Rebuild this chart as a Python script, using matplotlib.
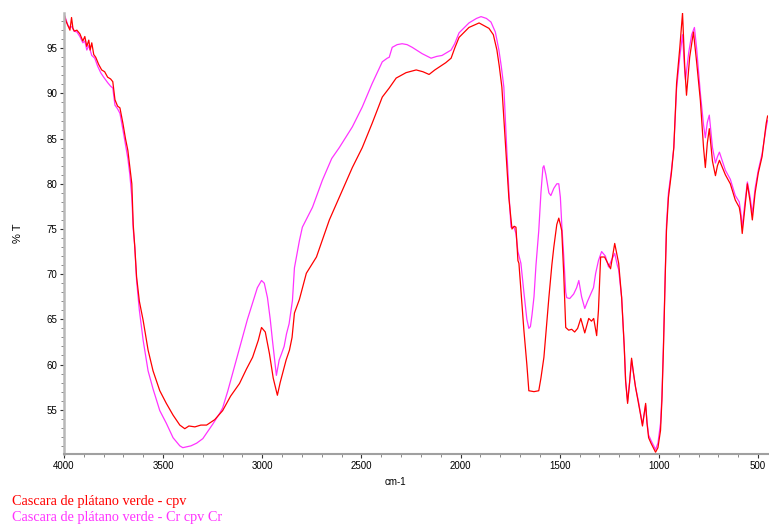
import numpy as np
import matplotlib
matplotlib.use("Agg")
from matplotlib import pyplot as plt
from matplotlib.ticker import MultipleLocator

# cascara de platano verde - cpv (red)
wn_cpv = [4000, 3990, 3980, 3970, 3962, 3955, 3948, 3935, 3920, 3905,
          3895, 3885, 3875, 3868, 3860, 3850, 3840, 3825, 3810, 3795,
          3780, 3765, 3754, 3743, 3730, 3718, 3703, 3690, 3678, 3668,
          3658, 3651, 3643, 3634, 3620, 3601, 3576, 3551, 3517, 3484,
          3450, 3416, 3391, 3370, 3340, 3310, 3281, 3240, 3200, 3160,
          3115, 3080, 3049, 3020, 3004, 2985, 2964, 2945, 2924, 2910,
          2898, 2880, 2863, 2850, 2838, 2813, 2778, 2727, 2662, 2612,
          2546, 2496, 2446, 2395, 2360, 2325, 2275, 2224, 2190, 2159,
          2130, 2109, 2075, 2048, 2030, 2008, 1958, 1907, 1857, 1835,
          1817, 1805, 1792, 1780, 1767, 1757, 1741, 1730, 1721, 1711,
          1706, 1695, 1681, 1666, 1656, 1630, 1606, 1595, 1580, 1568,
          1555, 1540, 1530, 1515, 1505, 1497, 1490, 1480, 1470, 1455,
          1440, 1425, 1410, 1394, 1374, 1354, 1340, 1329, 1314, 1305,
          1294, 1274, 1244, 1223, 1203, 1188, 1175, 1168, 1158, 1148,
          1138, 1128, 1118, 1103, 1093, 1083, 1067, 1060, 1052, 1040,
          1017, 1005, 992, 985, 977, 968, 962, 952, 937, 925,
          911, 895, 881, 870, 861, 845, 826, 810, 791, 775,
          766, 756, 746, 730, 715, 705, 695, 680, 665, 640,
          615, 595, 588, 580, 566, 554, 540, 529, 515, 499,
          480, 459, 452]
t_cpv = [98.8, 98.0, 97.5, 97.0, 98.4, 97.2, 96.9, 97.0, 96.6, 95.8,
         96.3, 95.2, 95.9, 94.8, 95.6, 94.3, 94.0, 93.2, 92.6, 92.4,
         91.8, 91.6, 91.3, 89.3, 88.6, 88.4, 86.7, 85.0, 83.7, 81.8,
         80.0, 75.5, 73.0, 69.7, 67.0, 64.9, 61.6, 59.3, 57.1, 55.7,
         54.4, 53.3, 52.9, 53.2, 53.1, 53.3, 53.3, 53.9, 54.9, 56.5,
         57.9, 59.5, 60.8, 62.7, 64.1, 63.6, 61.2, 58.5, 56.6, 58.0,
         59.0, 60.5, 61.6, 63.0, 65.7, 67.2, 70.1, 71.9, 76.0, 78.5,
         81.8, 84.0, 86.7, 89.6, 90.6, 91.7, 92.3, 92.6, 92.4, 92.1,
         92.6, 92.9, 93.4, 93.9, 95.0, 96.2, 97.3, 97.8, 97.2, 96.5,
         94.8, 93.0, 90.7, 86.5, 81.8, 78.5, 75.0, 75.3, 75.2, 71.5,
         71.2, 68.0, 63.8, 60.0, 57.1, 57.0, 57.1, 58.5, 60.8, 64.0,
         67.4, 71.0, 73.0, 75.5, 76.2, 75.5, 74.8, 70.0, 64.1, 63.8,
         63.9, 63.6, 64.0, 65.1, 63.5, 65.1, 64.8, 65.1, 63.2, 66.0,
         71.9, 71.9, 70.6, 73.4, 71.2, 67.4, 62.0, 58.2, 55.7, 58.0,
         60.7, 59.0, 57.5, 55.7, 54.5, 53.2, 55.7, 53.5, 51.9, 51.3,
         50.3, 50.8, 52.7, 56.0, 61.9, 70.0, 74.8, 78.5, 81.2, 84.0,
         91.1, 95.0, 98.9, 93.0, 89.8, 94.0, 96.8, 93.5, 89.2, 84.0,
         81.8, 84.5, 86.1, 82.5, 80.9, 82.0, 82.6, 81.8, 81.0, 80.0,
         78.2, 77.4, 76.5, 74.5, 77.5, 80.0, 78.0, 76.0, 79.0, 81.2,
         83.0, 86.7, 87.5]

# cascara de platano verde - Cr cpv Cr (magenta)
wn_cr = [4000, 3990, 3980, 3970, 3960, 3950, 3935, 3920, 3905, 3895,
         3885, 3875, 3860, 3845, 3830, 3815, 3800, 3780, 3765, 3754,
         3743, 3730, 3718, 3703, 3690, 3678, 3668, 3658, 3651, 3643,
         3634, 3620, 3601, 3576, 3551, 3517, 3484, 3450, 3416, 3401,
         3380, 3360, 3331, 3300, 3281, 3250, 3215, 3200, 3175, 3150,
         3125, 3100, 3075, 3049, 3025, 3004, 2990, 2974, 2960, 2949,
         2929, 2915, 2903, 2890, 2878, 2865, 2853, 2848, 2838, 2813,
         2798, 2747, 2697, 2650, 2612, 2546, 2496, 2446, 2395, 2370,
         2360, 2345, 2320, 2295, 2270, 2244, 2194, 2149, 2120, 2094,
         2048, 2030, 2008, 1958, 1920, 1897, 1870, 1847, 1825, 1807,
         1795, 1782, 1767, 1755, 1746, 1731, 1721, 1711, 1696, 1681,
         1666, 1656, 1648, 1640, 1630, 1620, 1606, 1595, 1585, 1580,
         1570, 1555, 1545, 1530, 1515, 1505, 1497, 1490, 1480, 1470,
         1465, 1450, 1430, 1415, 1404, 1390, 1374, 1360, 1344, 1330,
         1319, 1305, 1289, 1270, 1254, 1240, 1223, 1210, 1203, 1188,
         1175, 1168, 1158, 1148, 1138, 1128, 1118, 1103, 1093, 1083,
         1067, 1060, 1052, 1040, 1017, 1005, 992, 985, 977, 968,
         962, 952, 937, 925, 911, 895, 881, 870, 866, 850,
         835, 821, 810, 791, 775, 766, 756, 746, 730, 715,
         705, 695, 680, 665, 640, 615, 595, 588, 580, 566,
         554, 540, 529, 515, 499, 480, 459, 452]
t_cr = [98.8, 98.2, 97.5, 97.3, 97.4, 96.9, 96.8, 96.3, 95.6, 95.8,
        94.8, 95.3, 94.2, 93.9, 93.0, 92.3, 91.8, 91.2, 90.8, 90.6,
        88.7, 88.3, 87.8, 86.0, 84.3, 82.8, 81.0, 78.5, 75.0, 73.0,
        69.3, 66.0, 62.7, 59.3, 57.3, 54.9, 53.5, 51.9, 51.0, 50.8,
        50.9, 51.0, 51.3, 51.8, 52.4, 53.4, 54.6, 55.2, 57.0, 59.0,
        61.0, 63.0, 65.0, 66.8, 68.5, 69.3, 69.0, 67.4, 65.0, 62.7,
        58.8, 60.5, 61.2, 62.0, 63.4, 64.5, 66.3, 67.1, 70.7, 73.7,
        75.2, 77.4, 80.4, 82.8, 84.0, 86.3, 88.5, 91.1, 93.5, 93.9,
        94.0, 95.1, 95.4, 95.5, 95.4, 95.1, 94.4, 93.9, 94.1, 94.2,
        94.8, 95.5, 96.7, 97.8, 98.3, 98.5, 98.3, 97.9, 96.8, 94.8,
        93.0, 90.7, 83.7, 78.5, 75.2, 75.2, 74.5, 72.5, 71.2, 68.0,
        65.0, 64.0, 64.2, 65.5, 67.5, 71.0, 74.8, 79.0, 81.8, 82.0,
        81.0, 79.0, 78.7, 79.5, 80.0, 80.0, 78.5, 75.5, 72.0, 68.0,
        67.4, 67.3, 67.8, 68.5, 69.3, 67.5, 66.2, 67.0, 67.8, 68.5,
        70.1, 71.5, 72.5, 72.0, 70.8, 71.5, 72.3, 71.0, 70.5, 67.4,
        62.0, 58.2, 55.9, 58.0, 60.5, 59.0, 57.5, 55.9, 54.6, 53.4,
        55.5, 53.6, 52.2, 51.6, 50.6, 51.3, 53.5, 56.5, 62.5, 70.5,
        75.5, 79.0, 81.5, 84.0, 90.5, 94.0, 96.5, 92.5, 91.5, 94.5,
        96.5, 97.3, 95.0, 90.0, 86.5, 85.1, 86.8, 87.6, 84.0, 82.3,
        83.0, 83.5, 82.5, 81.5, 80.5, 78.7, 78.0, 77.0, 75.2, 78.0,
        80.2, 78.5, 76.7, 79.5, 81.5, 83.3, 86.3, 87.0]

labels = ["Cascara de plátano verde - cpv", "Cascara de plátano verde - Cr cpv Cr"]
colors = ["#ff0000", "#ff33ff"]

W, H = 769, 525
fig = plt.figure(figsize=(W / 100, H / 100), dpi=100)
ax = fig.add_axes([64 / W, 71 / H, 704 / W, 441 / H])

ax.plot(wn_cr, t_cr, color=colors[1], lw=0.9)
ax.plot(wn_cpv, t_cpv, color=colors[0], lw=0.9)

ax.set_xlim(4000, 450)
ax.set_ylim(50.1, 98.9)
ax.xaxis.set_major_locator(MultipleLocator(500))
ax.xaxis.set_minor_locator(MultipleLocator(100))
ax.yaxis.set_major_locator(MultipleLocator(5))
ax.yaxis.set_minor_locator(MultipleLocator(1))
ax.set_yticks([55, 60, 65, 70, 75, 80, 85, 90, 95])

for s in ["top", "right"]:
    ax.spines[s].set_visible(False)
ax.spines["left"].set_color("#b8b8b8")
ax.spines["left"].set_linewidth(1.8)
ax.spines["bottom"].set_color("#a0a0a0")
ax.spines["bottom"].set_linewidth(1.5)

ax.tick_params(which="major", length=3, width=0.8, color="#333333", pad=2,
               labelsize=7)
ax.tick_params(which="minor", length=2, width=0.6, color="#777777")
for lb in ax.get_xticklabels() + ax.get_yticklabels():
    lb.set_fontfamily("Liberation Sans")

fig.text(395 / W, 1 - 482 / H, "cm-1", fontsize=7, family="Liberation Sans",
         ha="center", va="center")
fig.text(18 / W, 1 - 233 / H, "% T", fontsize=8, family="Liberation Sans",
         rotation=90, ha="center", va="center")

fig.text(12 / W, 1 - 502 / H, labels[0], color=colors[0], fontsize=10.3,
         family="Liberation Serif", va="center")
fig.text(12 / W, 1 - 517 / H, labels[1], color=colors[1], fontsize=10.3,
         family="Liberation Serif", va="center")

fig.savefig("out.png", dpi=100)
